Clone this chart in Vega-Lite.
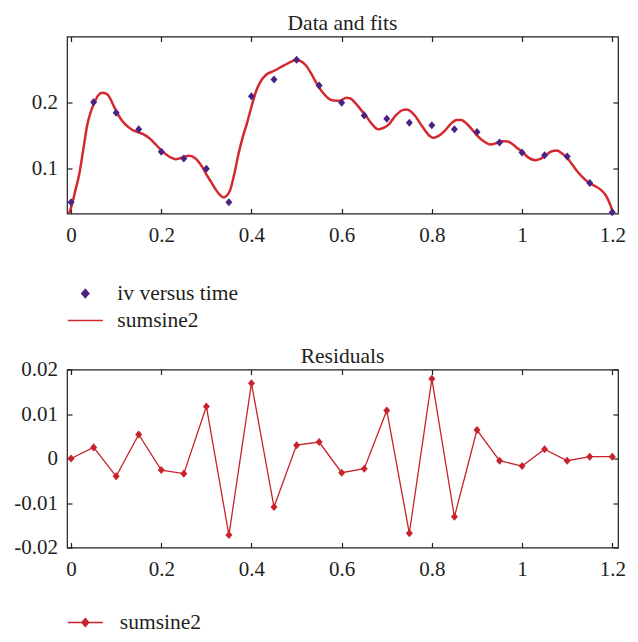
{
  "$schema": "https://vega.github.io/schema/vega-lite/v6.json",
  "padding": {"left": 13, "top": 12.5, "right": 8, "bottom": 4},
  "background": "white",
  "bounds": "flush",
  "spacing": 156,
  "config": {
    "font": "Liberation Serif",
    "view": {"stroke": "#231f20", "strokeWidth": 1.2},
    "axis": {"domain": false, "grid": false, "tickSize": -5, "tickWidth": 1.2, "tickColor": "#231f20", "labelFont": "Liberation Serif", "labelFontSize": 21, "labelColor": "#231f20", "title": null},
    "axisBottom": {"labelPadding": 16},
    "axisLeft": {"labelPadding": 14.4},
    "title": {"font": "Liberation Serif", "fontSize": 21.5, "fontWeight": "normal", "color": "#231f20", "offset": 2.5, "frame": "group"},
    "legend": {"labelFont": "Liberation Serif", "labelFontSize": 21.5, "labelColor": "#231f20"}
  },
  "datasets": {
    "fit": [
      {"t": -0.005, "v": 0.031}, {"t": 0.003, "v": 0.048}, {"t": 0.010, "v": 0.068}, {"t": 0.018, "v": 0.091},
      {"t": 0.027, "v": 0.128}, {"t": 0.036, "v": 0.166}, {"t": 0.044, "v": 0.186}, {"t": 0.051, "v": 0.198},
      {"t": 0.060, "v": 0.210}, {"t": 0.069, "v": 0.214}, {"t": 0.077, "v": 0.213}, {"t": 0.084, "v": 0.209},
      {"t": 0.092, "v": 0.198}, {"t": 0.099, "v": 0.188}, {"t": 0.110, "v": 0.175}, {"t": 0.121, "v": 0.166},
      {"t": 0.136, "v": 0.158}, {"t": 0.151, "v": 0.154}, {"t": 0.162, "v": 0.151}, {"t": 0.173, "v": 0.146},
      {"t": 0.188, "v": 0.136}, {"t": 0.202, "v": 0.126}, {"t": 0.217, "v": 0.118}, {"t": 0.232, "v": 0.114},
      {"t": 0.245, "v": 0.116}, {"t": 0.262, "v": 0.119}, {"t": 0.276, "v": 0.115}, {"t": 0.290, "v": 0.103},
      {"t": 0.300, "v": 0.091}, {"t": 0.310, "v": 0.080}, {"t": 0.320, "v": 0.069}, {"t": 0.330, "v": 0.060},
      {"t": 0.338, "v": 0.056}, {"t": 0.345, "v": 0.059}, {"t": 0.352, "v": 0.066}, {"t": 0.362, "v": 0.092},
      {"t": 0.372, "v": 0.124}, {"t": 0.381, "v": 0.148}, {"t": 0.390, "v": 0.168}, {"t": 0.400, "v": 0.193},
      {"t": 0.410, "v": 0.216}, {"t": 0.420, "v": 0.231}, {"t": 0.432, "v": 0.241}, {"t": 0.446, "v": 0.246},
      {"t": 0.458, "v": 0.250}, {"t": 0.468, "v": 0.254}, {"t": 0.482, "v": 0.259}, {"t": 0.497, "v": 0.263},
      {"t": 0.508, "v": 0.262}, {"t": 0.520, "v": 0.256}, {"t": 0.535, "v": 0.240}, {"t": 0.549, "v": 0.223},
      {"t": 0.560, "v": 0.213}, {"t": 0.570, "v": 0.206}, {"t": 0.582, "v": 0.2025}, {"t": 0.596, "v": 0.202},
      {"t": 0.610, "v": 0.2065}, {"t": 0.618, "v": 0.206}, {"t": 0.630, "v": 0.199}, {"t": 0.642, "v": 0.189},
      {"t": 0.652, "v": 0.181}, {"t": 0.667, "v": 0.167}, {"t": 0.681, "v": 0.159}, {"t": 0.692, "v": 0.161},
      {"t": 0.704, "v": 0.166}, {"t": 0.720, "v": 0.180}, {"t": 0.735, "v": 0.188}, {"t": 0.745, "v": 0.189},
      {"t": 0.755, "v": 0.185}, {"t": 0.763, "v": 0.179}, {"t": 0.780, "v": 0.162}, {"t": 0.795, "v": 0.149},
      {"t": 0.803, "v": 0.146}, {"t": 0.815, "v": 0.149}, {"t": 0.829, "v": 0.157}, {"t": 0.843, "v": 0.168},
      {"t": 0.855, "v": 0.173}, {"t": 0.865, "v": 0.173}, {"t": 0.878, "v": 0.167}, {"t": 0.890, "v": 0.158},
      {"t": 0.900, "v": 0.150}, {"t": 0.915, "v": 0.141}, {"t": 0.930, "v": 0.136}, {"t": 0.942, "v": 0.138},
      {"t": 0.952, "v": 0.141}, {"t": 0.962, "v": 0.141}, {"t": 0.974, "v": 0.139}, {"t": 0.987, "v": 0.132},
      {"t": 1.000, "v": 0.125}, {"t": 1.015, "v": 0.116}, {"t": 1.030, "v": 0.1125}, {"t": 1.043, "v": 0.115},
      {"t": 1.055, "v": 0.121}, {"t": 1.066, "v": 0.126}, {"t": 1.077, "v": 0.127}, {"t": 1.088, "v": 0.123},
      {"t": 1.100, "v": 0.116}, {"t": 1.112, "v": 0.105}, {"t": 1.125, "v": 0.0935}, {"t": 1.137, "v": 0.085},
      {"t": 1.148, "v": 0.0784}, {"t": 1.160, "v": 0.074}, {"t": 1.174, "v": 0.068}, {"t": 1.184, "v": 0.061},
      {"t": 1.192, "v": 0.051}, {"t": 1.202, "v": 0.033}, {"t": 1.206, "v": 0.025}
    ],
    "pts": [
      {"t": 0.00, "v": 0.049}, {"t": 0.05, "v": 0.200}, {"t": 0.10, "v": 0.184}, {"t": 0.15, "v": 0.159},
      {"t": 0.20, "v": 0.125}, {"t": 0.25, "v": 0.115}, {"t": 0.30, "v": 0.0995}, {"t": 0.35, "v": 0.049},
      {"t": 0.40, "v": 0.209}, {"t": 0.45, "v": 0.234}, {"t": 0.50, "v": 0.264}, {"t": 0.55, "v": 0.225},
      {"t": 0.60, "v": 0.199}, {"t": 0.65, "v": 0.180}, {"t": 0.70, "v": 0.175}, {"t": 0.75, "v": 0.169},
      {"t": 0.80, "v": 0.165}, {"t": 0.85, "v": 0.159}, {"t": 0.90, "v": 0.155}, {"t": 0.95, "v": 0.139},
      {"t": 1.00, "v": 0.124}, {"t": 1.05, "v": 0.120}, {"t": 1.10, "v": 0.118}, {"t": 1.15, "v": 0.078},
      {"t": 1.20, "v": 0.034}
    ],
    "res": [
      {"t": 0.00, "r": 0.0}, {"t": 0.05, "r": 0.0025}, {"t": 0.10, "r": -0.004}, {"t": 0.15, "r": 0.0054},
      {"t": 0.20, "r": -0.0026}, {"t": 0.25, "r": -0.0034}, {"t": 0.30, "r": 0.0117}, {"t": 0.35, "r": -0.0172},
      {"t": 0.40, "r": 0.0169}, {"t": 0.45, "r": -0.0109}, {"t": 0.50, "r": 0.003}, {"t": 0.55, "r": 0.0037},
      {"t": 0.60, "r": -0.0032}, {"t": 0.65, "r": -0.0023}, {"t": 0.70, "r": 0.0108}, {"t": 0.75, "r": -0.0168},
      {"t": 0.80, "r": 0.0179}, {"t": 0.85, "r": -0.0131}, {"t": 0.90, "r": 0.0064}, {"t": 0.95, "r": -0.0005},
      {"t": 1.00, "r": -0.0017}, {"t": 1.05, "r": 0.0021}, {"t": 1.10, "r": -0.0005}, {"t": 1.15, "r": 0.0004},
      {"t": 1.20, "r": 0.0004}
    ]
  },
  "resolve": {"scale": {"color": "independent"}, "legend": {"color": "independent"}},
  "vconcat": [
    {
      "title": {"text": "Data and fits", "dy": 1.5},
      "width": 551,
      "height": 177,
      "layer": [
        {
          "data": {"name": "fit"},
          "mark": {"type": "line", "interpolate": "monotone", "strokeWidth": 2.5, "clip": true},
          "encoding": {
            "x": {"field": "t", "type": "quantitative", "scale": {"domain": [-0.009, 1.2127], "nice": false, "zero": false}, "axis": {"orient": "bottom", "values": [0, 0.2, 0.4, 0.6, 0.8, 1, 1.2], "format": "~g"}},
            "y": {"field": "v", "type": "quantitative", "scale": {"domain": [0.032, 0.299], "nice": false, "zero": false}, "axis": {"orient": "left", "values": [0.1, 0.2], "format": "~g"}},
            "color": {
              "datum": "sumsine2",
              "scale": {"domain": ["iv versus time", "sumsine2"], "range": ["#4b2384", "#d42a2f"]},
              "legend": {
                "orient": "none", "legendX": 7.3, "legendY": 246, "title": null, "padding": 0,
                "symbolSize": 400, "labelOffset": 21, "rowPadding": 5, "labelBaseline": "middle",
                "encode": {"symbols": {"update": {
                  "shape": {"signal": "datum.value === 'sumsine2' ? 'M-1.75,0H1.75' : 'M0,-0.4L0.35,0L0,0.4L-0.35,0Z'"},
                  "fill": {"signal": "datum.value === 'sumsine2' ? 'transparent' : '#4b2384'"},
                  "stroke": {"signal": "datum.value === 'sumsine2' ? '#d42a2f' : '#4b2384'"},
                  "strokeWidth": {"value": 1.6},
                  "size": {"value": 400},
                  "opacity": {"value": 1}
                }}}
              }
            }
          }
        },
        {
          "data": {"name": "pts"},
          "mark": {"type": "point", "filled": true, "shape": "M0,-1.15L1,0L0,1.15L-1,0Z", "size": 49, "opacity": 1},
          "encoding": {
            "x": {"field": "t", "type": "quantitative", "axis": {"orient": "top", "labels": false, "values": [0, 0.2, 0.4, 0.6, 0.8, 1, 1.2]}},
            "y": {"field": "v", "type": "quantitative", "axis": {"orient": "right", "labels": false, "values": [0.1, 0.2]}},
            "color": {"datum": "iv versus time"}
          }
        }
      ],
      "resolve": {"axis": {"x": "independent", "y": "independent"}}
    },
    {
      "title": {"text": "Residuals", "dy": 11.5},
      "width": 551,
      "height": 178,
      "layer": [
        {
          "data": {"name": "res"},
          "mark": {"type": "line", "strokeWidth": 1.3},
          "encoding": {
            "x": {"field": "t", "type": "quantitative", "scale": {"domain": [-0.009, 1.2127], "nice": false, "zero": false}, "axis": {"orient": "bottom", "values": [0, 0.2, 0.4, 0.6, 0.8, 1, 1.2], "format": "~g"}},
            "y": {"field": "r", "type": "quantitative", "scale": {"domain": [-0.02, 0.02], "nice": false, "zero": false}, "axis": {"orient": "left", "values": [-0.02, -0.01, 0, 0.01, 0.02], "labelExpr": "(datum.value < 0 ? '-' : '') + format(abs(datum.value), '~g')"}},
            "color": {
              "datum": "sumsine2",
              "scale": {"domain": ["sumsine2"], "range": ["#c8232b"]},
              "legend": {
                "orient": "none", "legendX": 7.3, "legendY": 242, "title": null, "padding": 0,
                "symbolSize": 400, "labelOffset": 23.5, "labelBaseline": "middle",
                "encode": {"symbols": {"update": {
                  "shape": {"value": "M-1.75,0H1.75M0,-0.4L0.35,0L0,0.4L-0.35,0Z"},
                  "fill": {"value": "#c8232b"},
                  "stroke": {"value": "#c8232b"},
                  "strokeWidth": {"value": 1.3},
                  "size": {"value": 400},
                  "opacity": {"value": 1}
                }}}
              }
            }
          }
        },
        {
          "data": {"name": "res"},
          "mark": {"type": "point", "filled": true, "shape": "M0,-1.15L1,0L0,1.15L-1,0Z", "size": 49, "opacity": 1},
          "encoding": {
            "x": {"field": "t", "type": "quantitative", "axis": {"orient": "top", "labels": false, "values": [0, 0.2, 0.4, 0.6, 0.8, 1, 1.2]}},
            "y": {"field": "r", "type": "quantitative", "axis": {"orient": "right", "labels": false, "values": [-0.02, -0.01, 0, 0.01, 0.02]}},
            "color": {"datum": "sumsine2"}
          }
        }
      ],
      "resolve": {"axis": {"x": "independent", "y": "independent"}}
    }
  ]
}
